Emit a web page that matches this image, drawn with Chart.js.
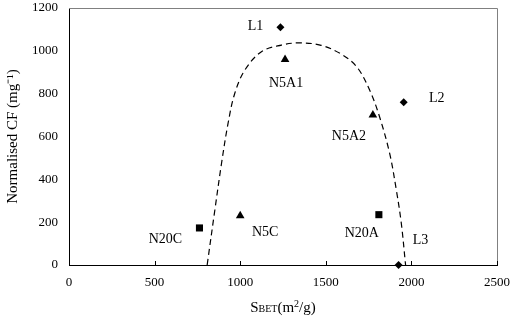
<!DOCTYPE html>
<html>
<head>
<meta charset="utf-8">
<script src="https://cdn.jsdelivr.net/npm/chart.js@4.4.1/dist/chart.umd.min.js"></script>
<style>
  html, body { margin: 0; padding: 0; background: #fff; }
  #wrap { width: 514px; height: 323px; }
</style>
</head>
<body>
<div id="wrap"><canvas id="chart"></canvas></div>
<script>
// Data
const lNames = ["L1", "L2", "L3"];
const lX = [1235, 1955, 1925];
const lY = [1110, 760, 0];

const n5Names = ["N5A1", "N5A2", "N5C"];
const n5X = [1262, 1775, 1000];
const n5Y = [960, 700, 230];

const n20Names = ["N20C", "N20A"];
const n20X = [762, 1810];
const n20Y = [173, 235];

// dashed envelope curve
const curveX = [807, 852, 891, 929, 968, 1027, 1124, 1241, 1340, 1467, 1583, 1680, 1756, 1814, 1873, 1912, 1941, 1966];
const curveY = [0, 257, 475, 661, 801, 910, 996, 1027, 1037, 1027, 988, 926, 817, 692, 521, 350, 195, 0];

const xTicks = [0, 500, 1000, 1500, 2000, 2500];
const yTicks = [0, 200, 400, 600, 800, 1000, 1200];

// label offsets in pixels from the marker (text centre)
const labelOffsets = {
  L1: [-25, -1], L2: [33, -4], L3: [22, -25],
  N5A1: [1, 24], N5A2: [-24, 21], N5C: [25, 17],
  N20C: [-34, 11], N20A: [-17, 19],
};

const toPts = (xs, ys) => xs.map((x, i) => ({ x: x, y: ys[i] }));
const serif = "'Liberation Serif', 'Times New Roman', serif";

const labelPlugin = {
  id: "labels",
  afterDatasetsDraw(chart) {
    const ctx = chart.ctx;
    const xs = chart.scales.x, ys = chart.scales.y;
    const a = chart.chartArea;
    ctx.save();
    // frame top and right
    ctx.strokeStyle = "#808080";
    ctx.lineWidth = 1;
    ctx.beginPath();
    ctx.moveTo(a.left, a.top + 0.5);
    ctx.lineTo(a.right + 0.5, a.top + 0.5);
    ctx.lineTo(a.right + 0.5, a.bottom);
    ctx.stroke();
    // inside x ticks
    ctx.strokeStyle = "#000";
    ctx.beginPath();
    xTicks.forEach(t => {
      const px = Math.round(xs.getPixelForValue(t)) + 0.5;
      ctx.moveTo(px, a.bottom);
      ctx.lineTo(px, a.bottom - 4);
    });
    ctx.stroke();
    // point labels
    ctx.fillStyle = "#000";
    ctx.font = "14px " + serif;
    ctx.textAlign = "center";
    ctx.textBaseline = "middle";
    const groups = [[lNames, lX, lY], [n5Names, n5X, n5Y], [n20Names, n20X, n20Y]];
    groups.forEach(([names, gx, gy]) => {
      names.forEach((n, i) => {
        const off = labelOffsets[n];
        ctx.fillText(n, xs.getPixelForValue(gx[i]) + off[0], ys.getPixelForValue(gy[i]) + off[1]);
      });
    });
    // x axis title: S(BET)(m²/g)
    const cx = 283, cy = 307;
    const parts = [["S", 15], ["BET", 10], ["(m", 15], ["2", 10, -5], ["/g)", 15]];
    let w = 0;
    parts.forEach(p => { ctx.font = p[1] + "px " + serif; w += ctx.measureText(p[0]).width; });
    let x = cx - w / 2;
    ctx.textAlign = "left";
    ctx.textBaseline = "alphabetic";
    parts.forEach(p => {
      ctx.font = p[1] + "px " + serif;
      ctx.fillText(p[0], x, cy + 5 + (p[2] || 0));
      x += ctx.measureText(p[0]).width;
    });
    ctx.restore();
  }
};

new Chart(document.getElementById("chart"), {
  type: "scatter",
  data: {
    datasets: [
      {
        label: "curve",
        data: toPts(curveX, curveY),
        showLine: true,
        borderColor: "#000",
        borderWidth: 1.2,
        borderDash: [6, 4],
        pointRadius: 0,
        tension: 0.35,
        fill: false,
      },
      {
        label: "L",
        data: toPts(lX, lY),
        pointStyle: "rectRot",
        pointRadius: 4,
        backgroundColor: "#000",
        borderColor: "#000",
        borderWidth: 0,
        clip: false,
      },
      {
        label: "N5",
        data: toPts(n5X, n5Y),
        pointStyle: "triangle",
        pointRadius: 5,
        backgroundColor: "#000",
        borderColor: "#000",
        borderWidth: 0,
      },
      {
        label: "N20",
        data: toPts(n20X, n20Y),
        pointStyle: "rect",
        pointRadius: 5,
        backgroundColor: "#000",
        borderColor: "#000",
        borderWidth: 0,
      },
    ],
  },
  options: {
    responsive: true,
    maintainAspectRatio: false,
    animation: false,
    layout: { padding: { top: 8, right: 17, left: 0, bottom: 0 } },
    plugins: {
      legend: { display: false },
      tooltip: { enabled: false },
    },
    scales: {
      x: {
        type: "linear",
        min: 0,
        max: 2500,
        afterBuildTicks: (s) => { s.ticks = xTicks.map(v => ({ value: v })); },
        afterFit: (s) => { s.height = 58; s.paddingLeft = 0; s.paddingRight = 0; },
        grid: { display: false, drawTicks: false },
        border: { color: "#000", width: 1 },
        ticks: { color: "#000", font: { family: serif, size: 13 }, padding: 10, maxRotation: 0,
          callback: (v) => String(v) },
      },
      y: {
        min: 0,
        max: 1200,
        afterBuildTicks: (s) => { s.ticks = yTicks.map(v => ({ value: v })); },
        afterFit: (s) => { s.width = 69; s.paddingTop = 0; s.paddingBottom = 0; },
        grid: { display: false, drawTicks: false },
        border: { color: "#000", width: 1 },
        ticks: { color: "#000", font: { family: serif, size: 13 }, padding: 11,
          callback: (v) => String(v) },
        title: {
          display: true,
          text: "Normalised CF (mg⁻¹)",
          color: "#000",
          font: { family: serif, size: 15 },
          padding: { top: 4, bottom: 0 },
        },
      },
    },
  },
  plugins: [labelPlugin],
});
</script>
</body>
</html>
